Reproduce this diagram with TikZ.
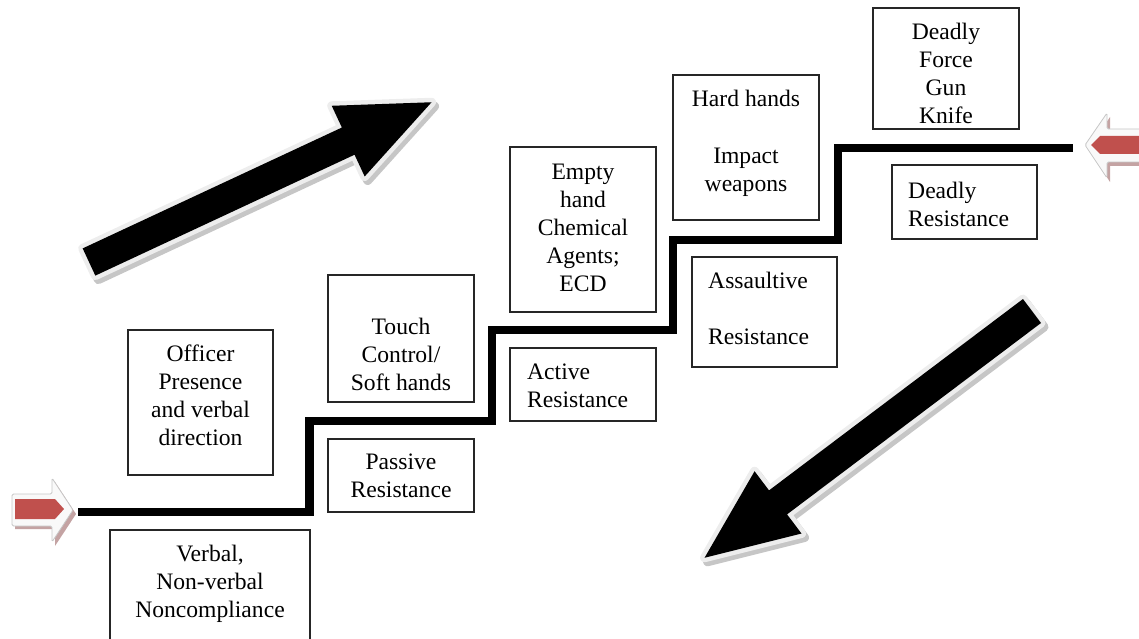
\documentclass[tikz,border=0pt]{standalone}
\usepackage{fontspec}
\setmainfont{Liberation Serif}
\usepackage{tikz}

\definecolor{arrowred}{HTML}{C0504D}
\definecolor{redshade}{HTML}{C4A3A3}
\definecolor{rimgray}{HTML}{EDEDED}

% big arrow along x, tail at origin, #1 = length
\newcommand{\fatarrow}[1]{(0,-15) -- (#1-92,-15) -- (#1-92,-39) -- (#1,0) -- (#1-92,39) -- (#1-92,15) -- (0,15) -- cycle}

\begin{document}
\begin{tikzpicture}[x=1pt,y=-1pt,
	box/.style={draw=black!85, line width=1.2, inner sep=0},
	txt/.style={font=\fontsize{23.6}{28}\selectfont, align=center, inner sep=0},
	lefttxt/.style={txt, align=left, anchor=west},
	stair/.style={line width=8.5, line join=miter}]
		\useasboundingbox (0,0) rectangle (1139,639);

		% big arrows
		\begin{scope}[shift={(92,266)}, rotate=25]
			\filldraw[gray!45, line width=9, line join=round] \fatarrow{378};
		\end{scope}
		\begin{scope}[shift={(89,262)}, rotate=25]
			\filldraw[rimgray, line width=9, line join=round] \fatarrow{378};
			\fill[black] \fatarrow{378};
		\end{scope}
		\begin{scope}[shift={(1035,315)}, rotate=217]
			\filldraw[gray!45, line width=9, line join=round] \fatarrow{410};
		\end{scope}
		\begin{scope}[shift={(1032,311)}, rotate=217]
			\filldraw[rimgray, line width=9, line join=round] \fatarrow{410};
			\fill[black] \fatarrow{410};
		\end{scope}

		% small red arrows
		\fill[redshade] (15,498) -- (55,498) -- (55,482) -- (76,514) -- (55,546) -- (55,529) -- (15,529) -- cycle;
		\filldraw[fill=gray!5, draw=gray!45, line width=0.8, rounded corners=1.5] (12,494) -- (52,494) -- (52,478) -- (73,510) -- (52,542) -- (52,526) -- (12,526) -- cycle;
		\fill[arrowred] (15,499) -- (55,499) -- (64,509) -- (55,519) -- (15,519) -- cycle;

		\fill[redshade] (1145,132) -- (1110,132) -- (1110,117) -- (1089,149) -- (1110,182) -- (1110,166) -- (1145,166) -- cycle;
		\filldraw[fill=gray!5, draw=gray!45, line width=0.8, rounded corners=1.5] (1145,129) -- (1107,129) -- (1107,113) -- (1085,145) -- (1107,178) -- (1107,162) -- (1145,162) -- cycle;
		\fill[arrowred] (1145,136) -- (1100,136) -- (1091,145) -- (1100,154) -- (1145,154) -- cycle;

		% staircase
		\coordinate (s0) at (78,512);
		\coordinate (s1) at (309.5,512);
		\coordinate (s2) at (309.5,421);
		\coordinate (s3) at (492,421);
		\coordinate (s4) at (492,330);
		\coordinate (s5) at (673,330);
		\coordinate (s6) at (673,240);
		\coordinate (s7) at (838,240);
		\coordinate (s8) at (838,148);
		\coordinate (s9) at (1073,148);
		\draw[stair, gray!45, shift={(1.5,1.5)}] (s0) -- (s1) -- (s2) -- (s3) -- (s4) -- (s5) -- (s6) -- (s7) -- (s8) -- (s9);
		\draw[stair] (s0) -- (s1) -- (s2) -- (s3) -- (s4) -- (s5) -- (s6) -- (s7) -- (s8) -- (s9);

		% response boxes (above the line)
		\node[box, minimum width=145, minimum height=145] (officer) at (200.5,402.5) {};
		\node[txt] (officer-t) at (200.5,395) {Officer\\Presence\\and verbal\\direction};
		\node[box, minimum width=146, minimum height=127] (touch) at (401,338.5) {};
		\node[txt] (touch-t) at (401,354) {Touch\\Control/\\Soft hands};
		\node[box, minimum width=146, minimum height=165] (empty) at (583,229.5) {};
		\node[txt] (empty-t) at (583,228) {Empty\\hand\\Chemical\\Agents;\\ECD};
		\node[box, minimum width=146, minimum height=145] (hard) at (746,147.5) {};
		\node[txt] (hard-t) at (746,143) {Hard hands\\[29pt]Impact\\weapons};
		\node[box, minimum width=146, minimum height=121] (deadlyforce) at (946,68.5) {};
		\node[txt] (deadlyforce-t) at (946,73.5) {Deadly\\Force\\Gun\\Knife};

		% resistance boxes (below the line)
		\node[box, minimum width=200, minimum height=111] (verbal) at (210,585.5) {};
		\node[txt] (verbal-t) at (210,584) {Verbal,\\Non-verbal\\Noncompliance};
		\node[box, minimum width=146, minimum height=73] (passive) at (401,475.5) {};
		\node[txt] (passive-t) at (401,476) {Passive\\Resistance};
		\node[box, minimum width=146, minimum height=73] (active) at (583,384.5) {};
		\node[lefttxt] (active-t) at (527,386) {Active\\Resistance};
		\node[box, minimum width=145, minimum height=110] (assault) at (764.5,312) {};
		\node[lefttxt] (assault-t) at (708,308.5) {Assaultive\\[28pt]Resistance};
		\node[box, minimum width=145, minimum height=74] (deadlyres) at (964.5,202) {};
		\node[lefttxt] (deadlyres-t) at (908,204) {Deadly\\Resistance};
		\end{tikzpicture}
\end{document}
